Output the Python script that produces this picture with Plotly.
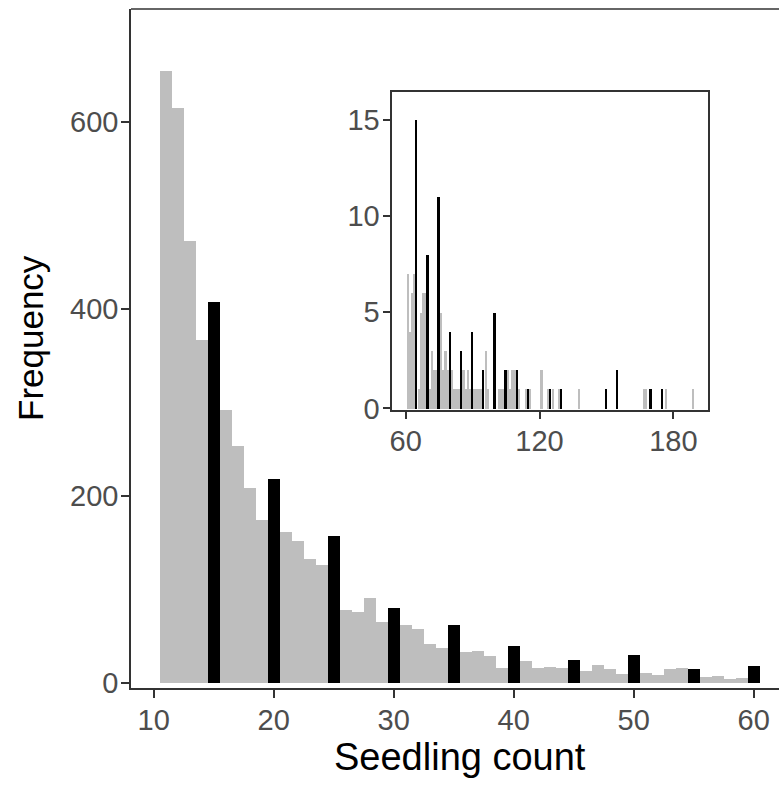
import plotly.graph_objects as go

# ---- main histogram (seedling counts 11-60) ----
main_gray_x = [11, 12, 13, 14, 16, 17, 18, 19, 21, 22, 23, 24, 26, 27, 28, 29,
               31, 32, 33, 34, 36, 37, 38, 39, 41, 42, 43, 44, 46, 47, 48, 49,
               51, 52, 53, 54, 56, 57, 58, 59]
main_gray_y = [655, 615, 473, 367, 292, 253, 209, 174, 161, 152, 133, 126, 78, 76, 91, 65,
               62, 58, 42, 37, 33, 34, 29, 16, 24, 16, 17, 16, 13, 19, 15, 10,
               11, 9, 15, 16, 6, 7, 4, 5]
main_black_x = [15, 20, 25, 30, 35, 40, 45, 50, 55, 60]
main_black_y = [408, 218, 157, 80, 62, 40, 25, 30, 15, 18]

# ---- inset histogram (counts > 60) ----
inset_gray_x = [61, 62, 63, 64, 66, 67, 68, 69, 71, 72, 73, 74, 76, 77, 78, 79,
                81, 82, 83, 84, 86, 87, 88, 89, 91, 92, 93, 94, 96, 97,
                102, 103, 104, 106, 107, 108, 109, 111, 114, 116, 121, 124, 126,
                129, 138, 167, 168, 177, 189]
inset_gray_y = [7, 4, 6, 7, 1, 5, 6, 6, 1, 3, 2, 2, 5, 2, 3, 2,
                2, 1, 1, 1, 2, 1, 2, 1, 1, 1, 1, 1, 3, 1,
                1, 1, 1, 2, 1, 2, 2, 1, 1, 1, 2, 1, 1,
                1, 1, 1, 1, 1, 1]
inset_black_x = [65, 70, 75, 80, 85, 90, 95, 100, 105, 110, 115, 125, 130, 150, 155, 170, 175]
inset_black_y = [15, 8, 11, 4, 3, 4, 2, 5, 2, 2, 1, 1, 1, 1, 2, 1, 1]

main_xticks = [10, 20, 30, 40, 50, 60]
main_yticks = [0, 200, 400, 600]
inset_xticks = [60, 120, 180]
inset_yticks = [0, 5, 10, 15]

GRAY = "#BEBEBE"
BLACK = "#000000"
TICKCOL = "#4D4D4D"
LINECOL = "#333333"
FONT = "Liberation Sans, Arial, sans-serif"

fig = go.Figure()
fig.add_trace(go.Bar(x=main_gray_x, y=main_gray_y, width=1, marker=dict(color=GRAY, line=dict(width=0)),
                     xaxis="x", yaxis="y", showlegend=False))
fig.add_trace(go.Bar(x=main_black_x, y=main_black_y, width=1, marker=dict(color=BLACK, line=dict(width=0)),
                     xaxis="x", yaxis="y", showlegend=False))
fig.add_trace(go.Bar(x=inset_gray_x, y=inset_gray_y, width=1, marker=dict(color=GRAY, line=dict(width=0)),
                     xaxis="x2", yaxis="y2", showlegend=False))
fig.add_trace(go.Bar(x=inset_black_x, y=inset_black_y, width=0.8, marker=dict(color=BLACK, line=dict(width=0)),
                     xaxis="x2", yaxis="y2", showlegend=False))

W, H = 779, 785
L, T, R, B = 131, 9, 0, 97
pw = W - L - R
ph = H - T - B

def px2x(px):
    return (px - L) / pw

def py2y(py):
    return (H - B - py) / ph

def axis_style(standoff):
    return dict(showgrid=False, zeroline=False, showline=True, linecolor=LINECOL, linewidth=1.6,
                ticks="outside", ticklen=8, tickwidth=1.6, tickcolor=LINECOL,
                ticklabelstandoff=standoff,
                tickfont=dict(family=FONT, size=29, color=TICKCOL))

fig.update_layout(
    width=W, height=H,
    margin=dict(l=L, r=R, t=T, b=B),
    paper_bgcolor="white", plot_bgcolor="white",
    barmode="overlay", bargap=0,
    font=dict(family=FONT),
    xaxis=dict(domain=[0, 1], range=[8.11, 62.11], tickvals=main_xticks, anchor="y", **axis_style(-3)),
    yaxis=dict(domain=[0, 1], range=[-5.35, 720.9], tickvals=main_yticks, anchor="x", **axis_style(-3)),
    xaxis2=dict(domain=[px2x(392.3), px2x(707.7)], range=[53.99, 195.4], tickvals=inset_xticks,
                anchor="y2", mirror=True, **axis_style(-3)),
    yaxis2=dict(domain=[py2y(409.5), py2y(91.7)], range=[-0.06, 16.47], tickvals=inset_yticks,
                anchor="x2", mirror=True, **axis_style(-3)),
    shapes=[dict(type="line", xref="paper", yref="paper", x0=0, x1=1, y0=1, y1=1,
                 line=dict(color=LINECOL, width=1.6))],
    annotations=[
        dict(text="Seedling count", xref="paper", yref="paper", x=px2x(460), y=py2y(757),
             xanchor="center", yanchor="middle", showarrow=False,
             font=dict(family=FONT, size=38, color="black")),
        dict(text="Frequency", xref="paper", yref="paper", x=px2x(30), y=py2y(338),
             xanchor="center", yanchor="middle", textangle=-90, showarrow=False,
             font=dict(family=FONT, size=35, color="black")),
    ],
)

fig.write_html("out.html")
